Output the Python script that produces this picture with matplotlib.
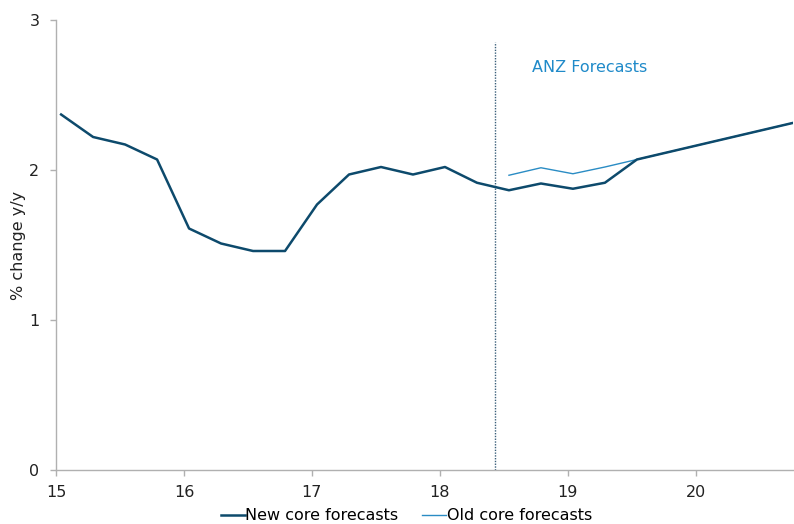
import matplotlib
matplotlib.use("Agg")
import matplotlib.pyplot as plt

quarters = [15.04 + 0.25 * i for i in range(24)]
new_core = [2.37, 2.22, 2.17, 2.07, 1.61, 1.51, 1.46, 1.46, 1.77, 1.97, 2.02, 1.97,
            2.02, 1.915, 1.865, 1.91, 1.875, 1.915, 2.07, 2.12, 2.17, 2.22, 2.27, 2.32]
old_x = quarters[14:]
old_core = [1.965, 2.015, 1.975, 2.02, 2.07, 2.12, 2.17, 2.22, 2.27, 2.32]
forecast_start = 18.43
x_ticks = [15, 16, 17, 18, 19, 20]
y_ticks = [0, 1, 2, 3]

plt.rcParams['font.family'] = ['DejaVu Sans']
fs = 11.5
fig = plt.figure(figsize=(7.94, 5.24), dpi=100)
ax = fig.add_axes([56/794, 1 - 470/524, (793 - 56)/794, (470 - 20)/524])

ax.plot(old_x, old_core, color='#2a8cc4', lw=1.0, label='Old core forecasts', zorder=3)
ax.plot(quarters, new_core, color='#0d4a6c', lw=1.8, label='New core forecasts', zorder=4)
ax.plot([forecast_start, forecast_start], [0, 2.855], color='#3a5f7a', lw=1.0,
        linestyle=(0, (1, 1)), zorder=2)
ax.text(18.72, 2.68, 'ANZ Forecasts', color='#1f8ac9', fontsize=fs, va='center', ha='left')

ax.set_xlim(15, 20.76)
ax.set_ylim(0, 3)
ax.set_xticks(x_ticks)
ax.set_xticklabels([str(t) for t in x_ticks])
ax.set_yticks(y_ticks)
for s in ['top', 'right']:
    ax.spines[s].set_visible(False)
for s in ['left', 'bottom']:
    ax.spines[s].set_color('#b0b0b0')
    ax.spines[s].set_linewidth(1.0)
ax.tick_params(axis='both', colors='#b0b0b0', labelcolor='#222222', labelsize=fs, length=4, width=1)
ax.tick_params(axis='x', pad=7)
ax.tick_params(axis='y', pad=8)
ax.set_ylabel('% change y/y', fontsize=fs, color='#222222', labelpad=2)

handles, labels = ax.get_legend_handles_labels()
order = [1, 0]
fig.legend([handles[i] for i in order], [labels[i] for i in order],
           loc='center', bbox_to_anchor=(0.512, 1 - 516/524), ncol=2, frameon=False,
           fontsize=fs, handlelength=1.5, handletextpad=0.05, columnspacing=1.5)

fig.savefig('out.png', dpi=100)
